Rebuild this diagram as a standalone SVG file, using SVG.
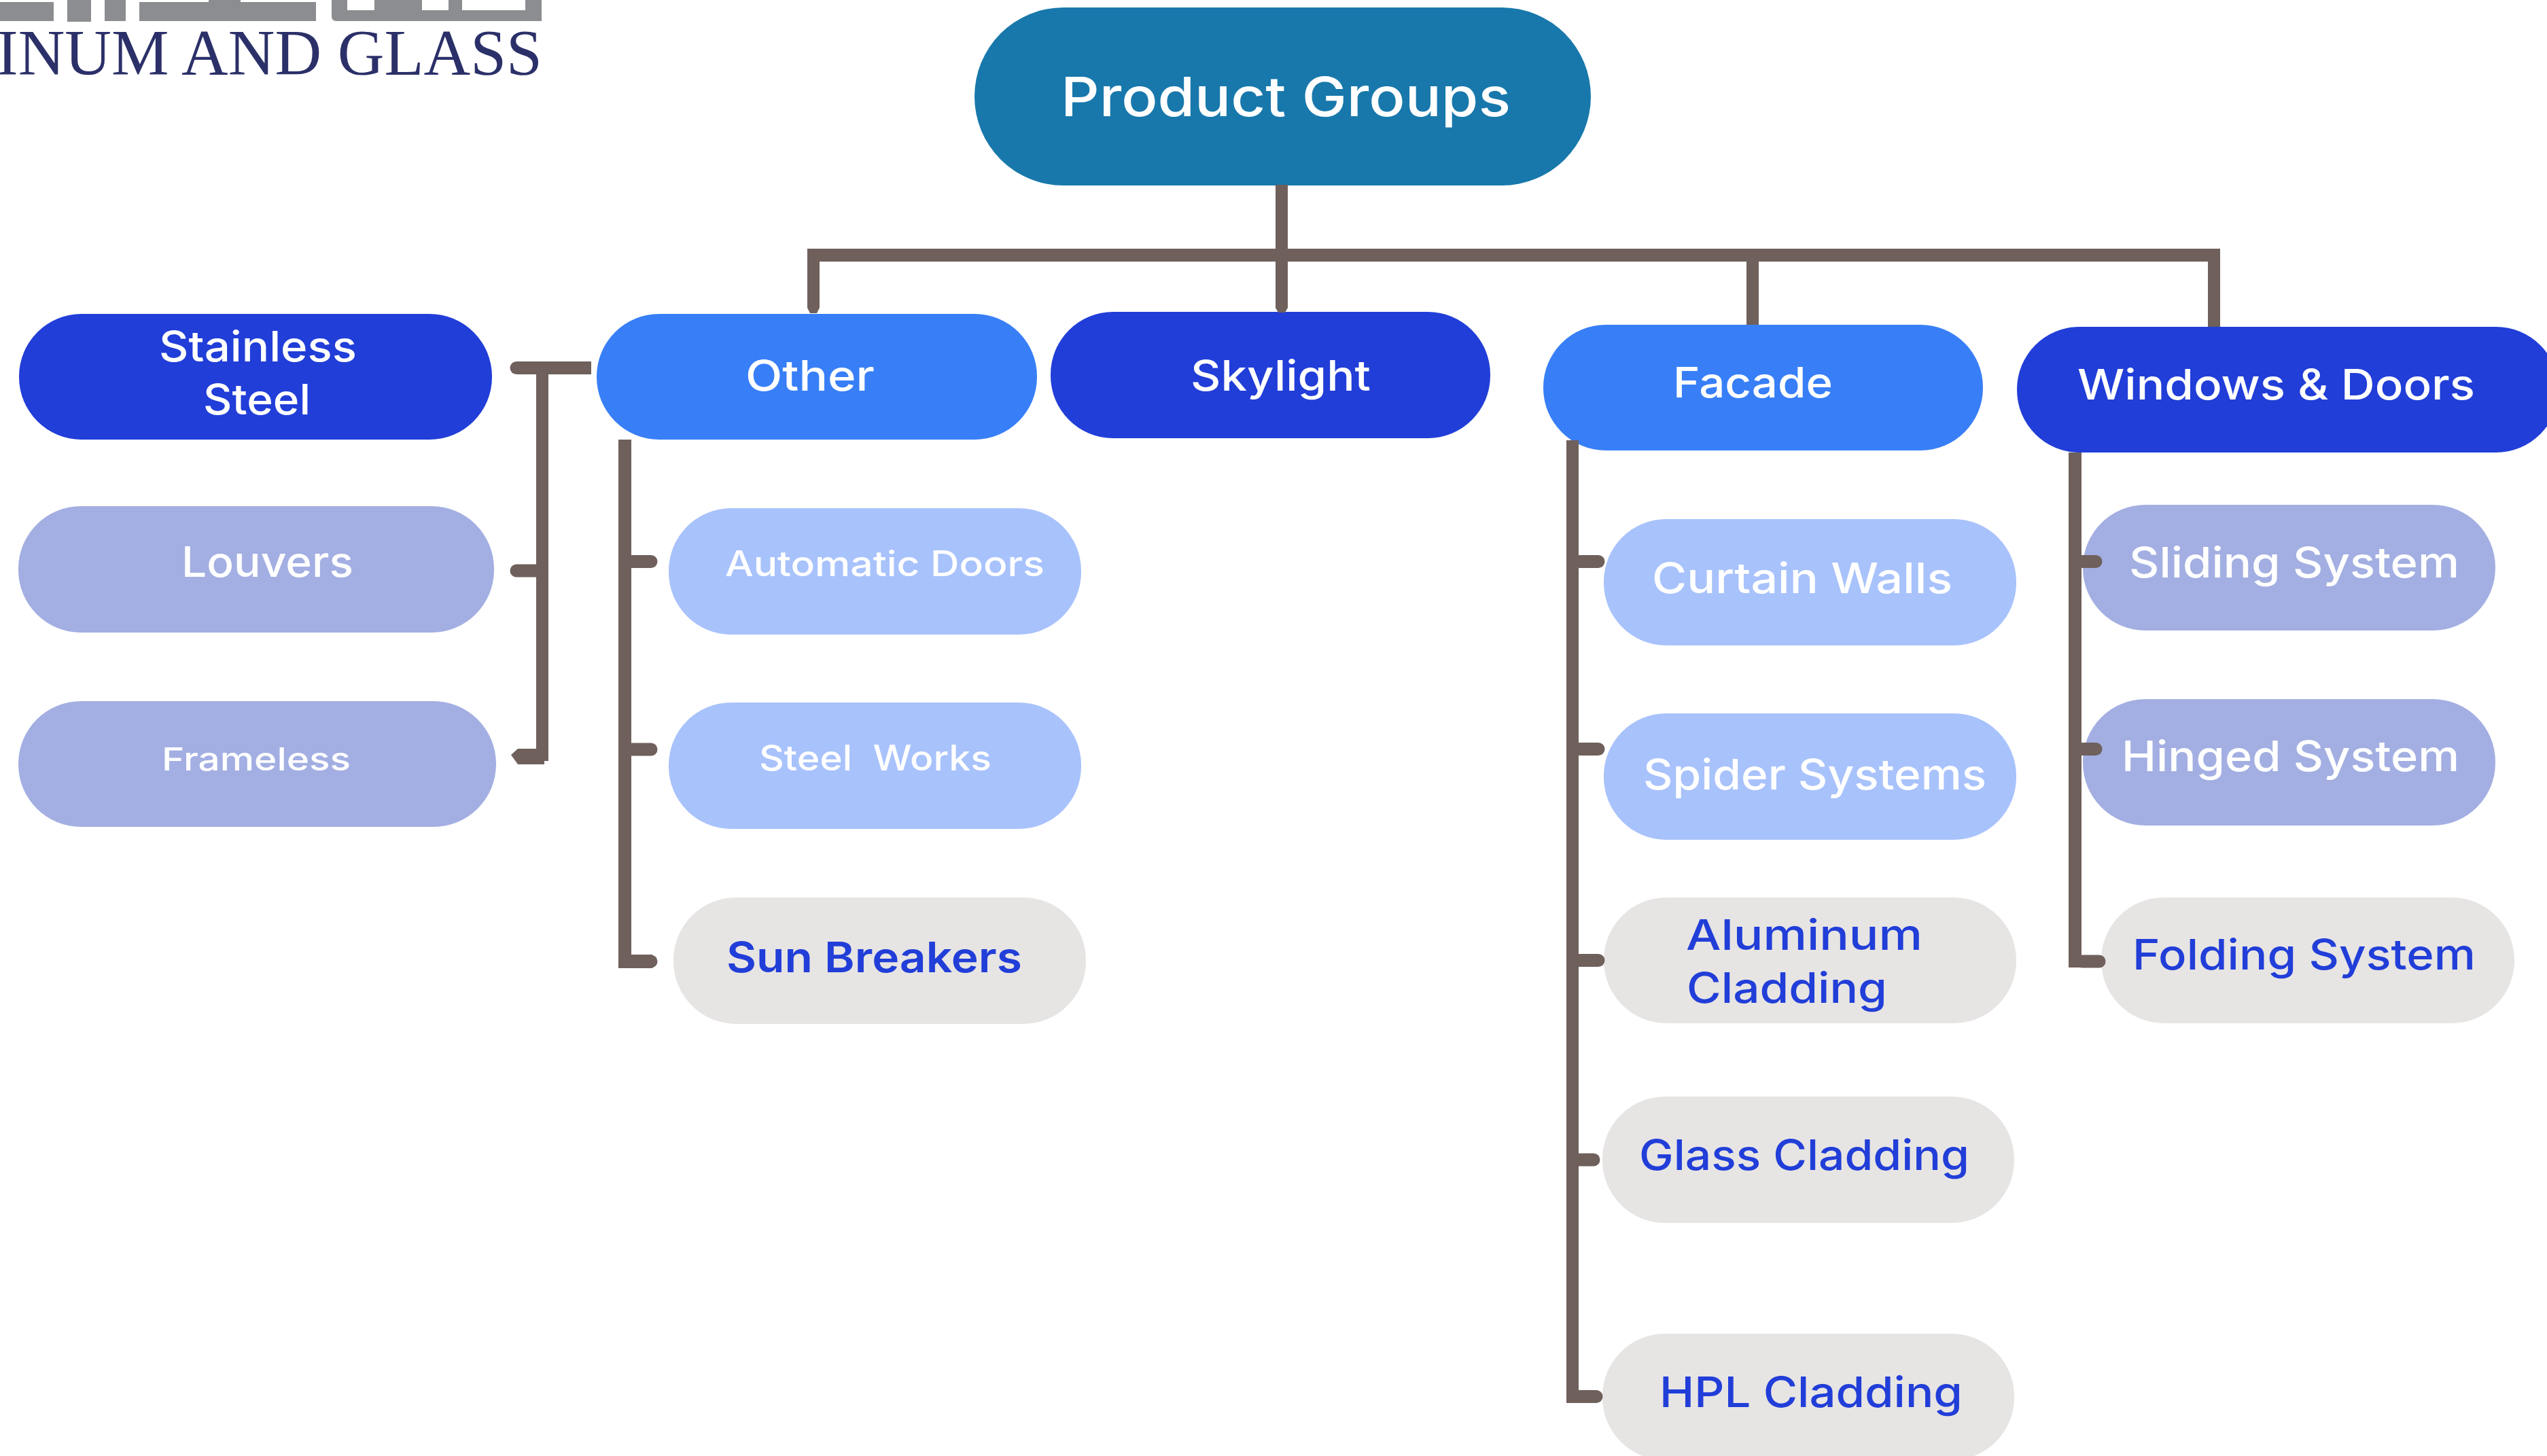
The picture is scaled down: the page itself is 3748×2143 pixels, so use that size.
<svg xmlns="http://www.w3.org/2000/svg" width="3748" height="2143" viewBox="0 0 3748 2143">
<style>
.t{font-family:"Inter","Noto Sans","Liberation Sans",sans-serif;font-weight:500;white-space:pre}
.w{fill:#fff}
.b{fill:#213ED8}
.s{font-size:62px}
.dark{fill:#213ED8}
.bright{fill:#387FF7}
.light{fill:#A8C2FC}
.lav{fill:#A3AFE2}
.grey{fill:#E7E4E4}
.tick{fill:none;stroke:#6F605C;stroke-width:19;stroke-linecap:round}
.line{fill:#6F605C}
.logo{fill:#8C8D90}
</style>
<rect width="3748" height="2143" fill="#fff"/>
<g id="logo">
<path class="logo" d="M0 3H79V31H0Z M99 0H134V32H99Z M154 0H185V31H154Z M205 3H307V0H354V3H465V31H205Z"/>
<path class="logo" fill-rule="evenodd" d="M488 0H797V31H495Q488 31 488 24Z M511 0V15H551V0Z M621 0V15H660V0Z M680 0V15H773V0Z"/>
<text x="-5" y="110" font-family="Liberation Serif,serif" font-size="96" fill="#2B3069" textLength="803" lengthAdjust="spacingAndGlyphs">INUM AND GLASS</text>
</g>
<g id="node-product-groups"><rect x="1434" y="11" width="907" height="262" rx="131" fill="#1878AB"/><text class="t w" x="1561" y="171" font-size="80" textLength="662" lengthAdjust="spacingAndGlyphs">Product Groups</text></g>
<g id="node-stainless-steel"><rect class="dark" x="28" y="462" width="696" height="185" rx="92"/><text class="t w s" x="234" y="532" textLength="291" lengthAdjust="spacingAndGlyphs">Stainless</text><text class="t w s" x="299" y="610" textLength="158" lengthAdjust="spacingAndGlyphs">Steel</text></g>
<g id="node-louvers"><rect class="lav" x="27" y="745" width="700" height="186" rx="92"/><text class="t w s" x="267" y="849" textLength="253" lengthAdjust="spacingAndGlyphs">Louvers</text></g>
<g id="node-frameless"><rect class="lav" x="27" y="1032" width="703" height="185" rx="92"/><text class="t w" x="238" y="1134" font-size="47" textLength="278" lengthAdjust="spacingAndGlyphs">Frameless</text></g>
<g id="node-other"><rect class="bright" x="878" y="462" width="648" height="185" rx="92"/><text class="t w s" x="1097" y="575" textLength="190" lengthAdjust="spacingAndGlyphs">Other</text></g>
<g id="node-skylight"><rect class="dark" x="1546" y="459" width="647" height="186" rx="92"/><text class="t w s" x="1752" y="575" textLength="265" lengthAdjust="spacingAndGlyphs">Skylight</text></g>
<g id="node-facade"><rect class="bright" x="2271" y="478" width="647" height="185" rx="92"/><text class="t w s" x="2462" y="585" textLength="235" lengthAdjust="spacingAndGlyphs">Facade</text></g>
<g id="node-windows-doors"><rect class="dark" x="2968" y="481" width="797" height="185" rx="92"/><text class="t w s" x="3057" y="588" textLength="585" lengthAdjust="spacingAndGlyphs">Windows &amp; Doors</text></g>
<g id="node-automatic-doors"><rect class="light" x="984" y="748" width="607" height="186" rx="92"/><text class="t w" x="1067" y="848" font-size="52" textLength="470" lengthAdjust="spacingAndGlyphs">Automatic Doors</text></g>
<g id="node-steel-works"><rect class="light" x="984" y="1034" width="607" height="186" rx="92"/><text class="t w" x="1117" y="1134" font-size="52" textLength="342" lengthAdjust="spacingAndGlyphs">Steel  Works</text></g>
<g id="node-sun-breakers"><rect class="grey" x="991" y="1321" width="607" height="186" rx="92"/><text class="t b s" x="1069" y="1431" style="font-weight:600" textLength="435" lengthAdjust="spacingAndGlyphs">Sun Breakers</text></g>
<g id="node-curtain-walls"><rect class="light" x="2360" y="764" width="607" height="186" rx="92"/><text class="t w s" x="2431" y="873" textLength="442" lengthAdjust="spacingAndGlyphs">Curtain Walls</text></g>
<g id="node-spider-systems"><rect class="light" x="2360" y="1050" width="607" height="186" rx="92"/><text class="t w s" x="2418" y="1162" textLength="505" lengthAdjust="spacingAndGlyphs">Spider Systems</text></g>
<g id="node-aluminum-cladding"><rect class="grey" x="2360" y="1321" width="607" height="185" rx="92"/><text class="t b s" x="2481" y="1398" textLength="348" lengthAdjust="spacingAndGlyphs">Aluminum</text><text class="t b s" x="2482" y="1476" textLength="295" lengthAdjust="spacingAndGlyphs">Cladding</text></g>
<g id="node-glass-cladding"><rect class="grey" x="2358" y="1614" width="606" height="186" rx="92"/><text class="t b s" x="2412" y="1722" textLength="486" lengthAdjust="spacingAndGlyphs">Glass Cladding</text></g>
<g id="node-hpl-cladding"><rect class="grey" x="2358" y="1963" width="606" height="186" rx="92"/><text class="t b s" x="2442" y="2071" textLength="446" lengthAdjust="spacingAndGlyphs">HPL Cladding</text></g>
<g id="node-sliding-system"><rect class="lav" x="3065" y="743" width="607" height="185" rx="92"/><text class="t w s" x="3133" y="850" textLength="486" lengthAdjust="spacingAndGlyphs">Sliding System</text></g>
<g id="node-hinged-system"><rect class="lav" x="3065" y="1029" width="607" height="186" rx="92"/><text class="t w s" x="3122" y="1135" textLength="497" lengthAdjust="spacingAndGlyphs">Hinged System</text></g>
<g id="node-folding-system"><rect class="grey" x="3092" y="1321" width="608" height="185" rx="92"/><text class="t b s" x="3138" y="1427" textLength="505" lengthAdjust="spacingAndGlyphs">Folding System</text></g>
<g id="connectors">
<path class="line" d="M1877 272H1895V366H3267V481H3249V385H2588V478H2570V385H1895V453L1891 460H1881L1877 453V385H1206V453L1202 461H1192L1188 453V366H1877Z"/>
<path class="line" d="M910 647H929V1405H960V1425H910Z"/>
<path class="line" d="M2305 648H2323V2046H2350V2065H2305Z"/>
<path class="line" d="M3044 666H3063V1406H3090V1424H3044Z"/>
<path class="line" d="M760 532H870V551H807V1120H801V1125H762L752 1111L762 1102H789V551H760Z"/>
<g class="tick">
<path d="M760 541.500H790"/><path d="M760 840H790"/>
<path d="M930 826.500H958"/><path d="M930 1103H958"/><path d="M930 1415H958"/>
<path d="M2324 826.500H2352"/><path d="M2324 1102.500H2352"/><path d="M2324 1413.500H2352"/><path d="M2324 1707H2345"/><path d="M2324 2055.500H2349"/>
<path d="M3064 826.500H3084"/><path d="M3064 1102.500H3084"/><path d="M3064 1415H3089"/>
</g>
</g>
</svg>
